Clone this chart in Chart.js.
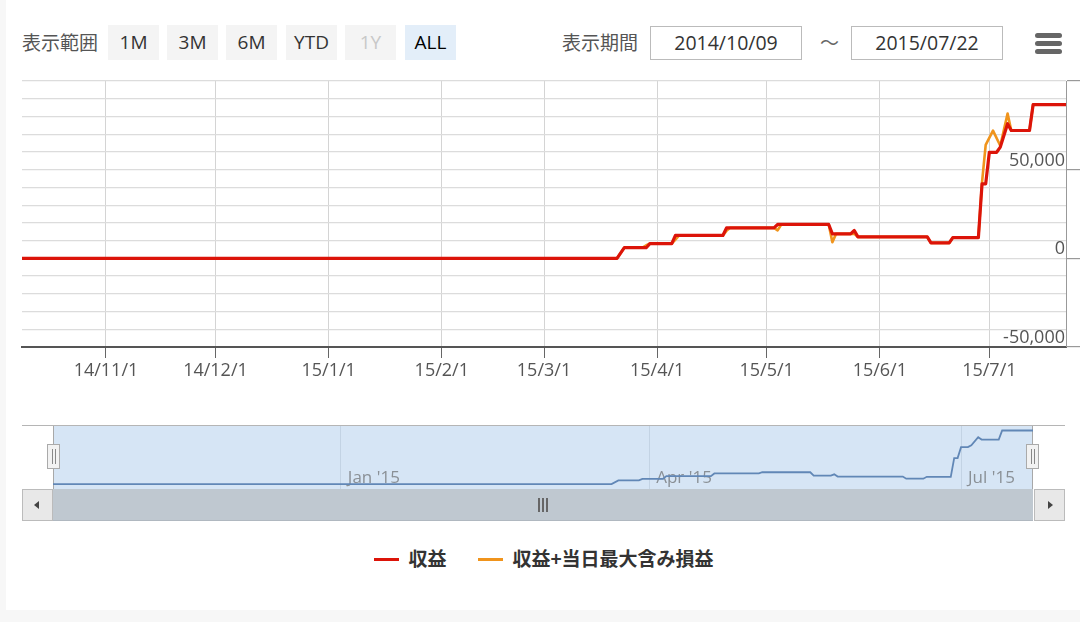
<!DOCTYPE html>
<html>
<head>
<meta charset="utf-8">
<script src="https://cdn.jsdelivr.net/npm/chart.js@4.4.1/dist/chart.umd.min.js"></script>
<style>
  body { margin: 0; width: 1080px; height: 622px; background: #f7f7f7; overflow: hidden;
         font-family: 'Open Sans', 'Noto Sans CJK JP', sans-serif; }
  .abs { position: absolute; }
  #panel { left: 6px; top: 0; width: 1074px; height: 610px; background: #fff; }
  .lbl { font-family: 'Noto Sans CJK JP', sans-serif; font-size: 19px; color: #555; top: 28px; line-height: 28px; }
  .btn { top: 25px; width: 51px; height: 35px; background: #f4f4f4; font-size: 19px; color: #333;
         text-align: center; line-height: 35px; }
  .btn.off { color: #c8c8c8; }
  .btn.on { background: #e3eef9; color: #000; }
  .date { top: 26px; width: 150px; height: 32px; border: 1px solid #bbb; font-size: 19.5px; color: #333;
          text-align: center; line-height: 32px; }
  .bar { left: 1035px; width: 27px; height: 5px; border-radius: 3px; background: #666; }
  .sbtn { top: 489px; width: 31px; height: 32px; background: #e8e8e8; border: 1px solid #bbb; box-sizing: border-box; }
  .handle { top: 444px; width: 13px; height: 25px; background: #f2f2f2; border: 1px solid #aaa; box-sizing: border-box; }
  .handle i { position: absolute; top: 4px; width: 1px; height: 15px; background: #888; }
  #legend { left: 22px; width: 1044px; top: 544px; text-align: center; font-family: 'Noto Sans CJK JP', sans-serif;
            font-size: 19px; font-weight: bold; color: #333; }
  #legend span.item { display: inline-block; margin: 0 16px; }
  #legend span.sym { display: inline-block; width: 25px; height: 3px; vertical-align: middle; margin-right: 9px; position: relative; top: -1px; }
</style>
</head>
<body>
<div id="panel" class="abs"></div>

<div class="abs lbl" style="left:22px">表示範囲</div>
<div class="abs btn" style="left:108px">1M</div>
<div class="abs btn" style="left:167px">3M</div>
<div class="abs btn" style="left:226px">6M</div>
<div class="abs btn" style="left:286px">YTD</div>
<div class="abs btn off" style="left:345px">1Y</div>
<div class="abs btn on" style="left:405px">ALL</div>

<div class="abs lbl" style="left:562px">表示期間</div>
<div class="abs date" style="left:650px">2014/10/09</div>
<div class="abs lbl" style="left:820px;color:#666">～</div>
<div class="abs date" style="left:851px">2015/07/22</div>
<div class="abs bar" style="top:33px"></div>
<div class="abs bar" style="top:41px"></div>
<div class="abs bar" style="top:49px"></div>

<canvas id="main" class="abs" style="left:0;top:70px" width="1080" height="317"></canvas>

<div class="abs" style="left:22px;top:425px;width:1043px;height:1px;background:#b5b5b5"></div>
<canvas id="nav" class="abs" style="left:0;top:420px" width="1080" height="75"></canvas>

<div class="abs" style="left:53px;top:489px;width:980px;height:32px;background:#bfc8d0;border-bottom:1px solid #b0b8c0;box-sizing:border-box"></div>
<div class="abs" style="left:538px;top:498px;width:1.5px;height:14px;background:#666"></div>
<div class="abs" style="left:542px;top:498px;width:1.5px;height:14px;background:#666"></div>
<div class="abs" style="left:546px;top:498px;width:1.5px;height:14px;background:#666"></div>
<div class="abs sbtn" style="left:22px"></div>
<div class="abs" style="left:34px;top:501px;width:0;height:0;border-top:4px solid transparent;border-bottom:4px solid transparent;border-right:5px solid #444"></div>
<div class="abs sbtn" style="left:1034px"></div>
<div class="abs" style="left:1048px;top:501px;width:0;height:0;border-top:4px solid transparent;border-bottom:4px solid transparent;border-left:5px solid #444"></div>

<div class="abs handle" style="left:47px"><i style="left:4px"></i><i style="left:7px"></i></div>
<div class="abs handle" style="left:1026px"><i style="left:4px"></i><i style="left:7px"></i></div>

<div id="legend" class="abs"></div>

<script>
'use strict';

var startDate = '2014-10-09';
var endDate = '2015-07-22';

// Month ticks of the main chart and their labels
var monthTicks = ['2014-11-01', '2014-12-01', '2015-01-01', '2015-02-01', '2015-03-01',
                  '2015-04-01', '2015-05-01', '2015-06-01', '2015-07-01'];
var tickLabels = ['14/11/1', '14/12/1', '15/1/1', '15/2/1', '15/3/1',
                  '15/4/1', '15/5/1', '15/6/1', '15/7/1'];

// Navigator ticks
var navTicks = ['2015-01-01', '2015-04-01', '2015-07-01'];
var navLabels = ["Jan '15", "Apr '15", "Jul '15"];

// 収益 (vertices of the line)
var profitDates = ['2014-10-09', '2015-03-21', '2015-03-23', '2015-03-29', '2015-03-30', '2015-04-05',
                   '2015-04-06', '2015-04-19', '2015-04-20', '2015-05-03', '2015-05-04', '2015-05-18',
                   '2015-05-19', '2015-05-24', '2015-05-25', '2015-05-26', '2015-06-14', '2015-06-15',
                   '2015-06-20', '2015-06-21', '2015-06-28', '2015-06-29', '2015-06-30', '2015-07-01',
                   '2015-07-03', '2015-07-04', '2015-07-06', '2015-07-07', '2015-07-12', '2015-07-13',
                   '2015-07-22'];
var profitValues = [0, 0, 6000, 6000, 8300, 8300,
                    12900, 12900, 17200, 17200, 19100, 19100,
                    13800, 13800, 15700, 12100, 12100, 8700,
                    8700, 11700, 11700, 42000, 42000, 59800,
                    59800, 62700, 75900, 72100, 72100, 86700,
                    86700];

// 収益+当日最大含み損益
var maxDates = ['2014-10-09', '2015-03-21', '2015-03-23', '2015-03-28', '2015-03-29', '2015-03-30',
                '2015-04-05', '2015-04-06', '2015-04-07', '2015-04-19', '2015-04-20', '2015-04-21',
                '2015-05-03', '2015-05-04', '2015-05-05', '2015-05-18', '2015-05-19', '2015-05-20',
                '2015-05-24', '2015-05-25', '2015-05-26', '2015-06-14', '2015-06-15', '2015-06-20',
                '2015-06-21', '2015-06-28', '2015-06-29', '2015-06-30', '2015-07-02', '2015-07-04',
                '2015-07-06', '2015-07-07', '2015-07-12', '2015-07-13', '2015-07-22'];
var maxValues = [0, 0, 6000, 6000, 7400, 8300,
                 8300, 10500, 12900, 12900, 15500, 17200,
                 17200, 15800, 19100, 19100, 9100, 13800,
                 13800, 13800, 12100, 12100, 8700, 8700,
                 11700, 11700, 43000, 64000, 72000, 63500,
                 81600, 72100, 72100, 86700, 86700];

var FONT = "'Open Sans', 'Noto Sans CJK JP', sans-serif";

function day(s) {
  var p = s.split('-'), q = startDate.split('-');
  return (Date.UTC(+p[0], p[1] - 1, +p[2]) - Date.UTC(+q[0], q[1] - 1, +q[2])) / 86400000;
}

function points(dates, values) {
  return dates.map(function (d, i) {
    return { x: day(d), y: values[i] };
  });
}

// Labels of the y axis, drawn inside the plot above their grid line
var yLabelPlugin = {
  id: 'yLabels',
  afterDraw: function (chart) {
    var ctx = chart.ctx, y = chart.scales.y;
    ctx.save();
    ctx.font = '18px ' + FONT;
    ctx.fillStyle = '#555';
    ctx.textAlign = 'right';
    ctx.textBaseline = 'alphabetic';
    y.ticks.forEach(function (t) {
      if (t.value % 50000 === 0 && t.value < y.max) {
        ctx.fillText(t.value.toLocaleString('en-US'), chart.chartArea.right - 1, y.getPixelForValue(t.value) - 4);
      }
    });
    ctx.restore();
  }
};

var mainChart = new Chart(document.getElementById('main').getContext('2d'), {
  type: 'line',
  data: {
    datasets: [{
      label: '収益',
      data: points(profitDates, profitValues),
      borderColor: '#dc1409',
      borderWidth: 3.2
    }, {
      label: '収益+当日最大含み損益',
      data: points(maxDates, maxValues),
      borderColor: '#f0941c',
      borderWidth: 2.6
    }]
  },
  options: {
    responsive: false,
    animation: false,
    layout: { padding: { left: 22, top: 11, right: 0, bottom: 0 } },
    plugins: { legend: { display: false }, tooltip: { enabled: false } },
    elements: {
      point: { radius: 0 },
      line: { tension: 0, borderJoinStyle: 'round', borderCapStyle: 'butt' }
    },
    scales: {
      x: {
        type: 'linear',
        min: 0,
        max: day(endDate),
        afterBuildTicks: function (s) {
          s.ticks = monthTicks.map(function (d) { return { value: day(d) }; });
        },
        afterFit: function (s) { s.height = 40; },
        ticks: {
          autoSkip: false,
          maxRotation: 0,
          padding: 2,
          color: '#555',
          font: { family: FONT, size: 18 },
          callback: function (v, i) { return tickLabels[i]; }
        },
        grid: { color: '#d4d4d4', tickColor: '#666', tickLength: 11, lineWidth: 1 },
        border: { color: '#555', width: 2 }
      },
      y: {
        position: 'right',
        min: -50000,
        max: 100000,
        afterFit: function (s) { s.width = 14; },
        ticks: { stepSize: 10000, display: false },
        grid: {
          color: '#dcdcdc',
          lineWidth: 1.2,
          tickLength: 14,
          tickColor: function (c) {
            return c.tick && c.tick.value % 50000 === 0 ? '#999' : 'rgba(0,0,0,0)';
          }
        },
        border: { color: '#999', width: 1 }
      }
    }
  },
  plugins: [yLabelPlugin]
});

// Navigator background, edges and labels
var navPlugin = {
  id: 'navBg',
  beforeDraw: function (chart) {
    var ctx = chart.ctx, a = chart.chartArea;
    ctx.save();
    ctx.fillStyle = '#d6e5f5';
    ctx.fillRect(a.left, a.top, a.right - a.left, a.bottom - a.top);
    ctx.restore();
  },
  beforeDatasetsDraw: function (chart) {
    var ctx = chart.ctx, a = chart.chartArea, x = chart.scales.x;
    ctx.save();
    ctx.font = '17px ' + FONT;
    ctx.fillStyle = '#8a9096';
    ctx.textBaseline = 'alphabetic';
    navTicks.forEach(function (d, i) {
      ctx.fillText(navLabels[i], x.getPixelForValue(day(d)) + 7, a.bottom - 6);
    });
    ctx.strokeStyle = '#a8a8a8';
    ctx.lineWidth = 1;
    ctx.beginPath();
    ctx.moveTo(a.left + 0.5, a.top);
    ctx.lineTo(a.left + 0.5, a.bottom);
    ctx.moveTo(a.right - 0.5, a.top);
    ctx.lineTo(a.right - 0.5, a.bottom);
    ctx.stroke();
    ctx.restore();
  }
};

new Chart(document.getElementById('nav').getContext('2d'), {
  type: 'line',
  data: {
    datasets: [{
      data: points(profitDates, profitValues),
      borderColor: '#6187b6',
      borderWidth: 1.8
    }]
  },
  options: {
    responsive: false,
    animation: false,
    layout: { padding: { left: 53, right: 47, top: 6, bottom: 6 } },
    plugins: { legend: { display: false }, tooltip: { enabled: false } },
    elements: { point: { radius: 0 }, line: { tension: 0 } },
    scales: {
      x: {
        type: 'linear',
        min: 0,
        max: day(endDate),
        afterBuildTicks: function (s) {
          s.ticks = navTicks.map(function (d) { return { value: day(d) }; });
        },
        afterFit: function (s) { s.height = 0; },
        ticks: { display: false },
        grid: { color: '#c3d3e4', drawTicks: false },
        border: { display: false }
      },
      y: { display: false, min: -8000, max: 94000 }
    }
  },
  plugins: [navPlugin]
});

// Legend built from the main chart datasets
var legend = document.getElementById('legend');
mainChart.data.datasets.forEach(function (ds) {
  var item = document.createElement('span');
  item.className = 'item';
  item.innerHTML = '<span class="sym" style="background:' + ds.borderColor + '"></span>' + ds.label;
  legend.appendChild(item);
});
</script>
</body>
</html>
